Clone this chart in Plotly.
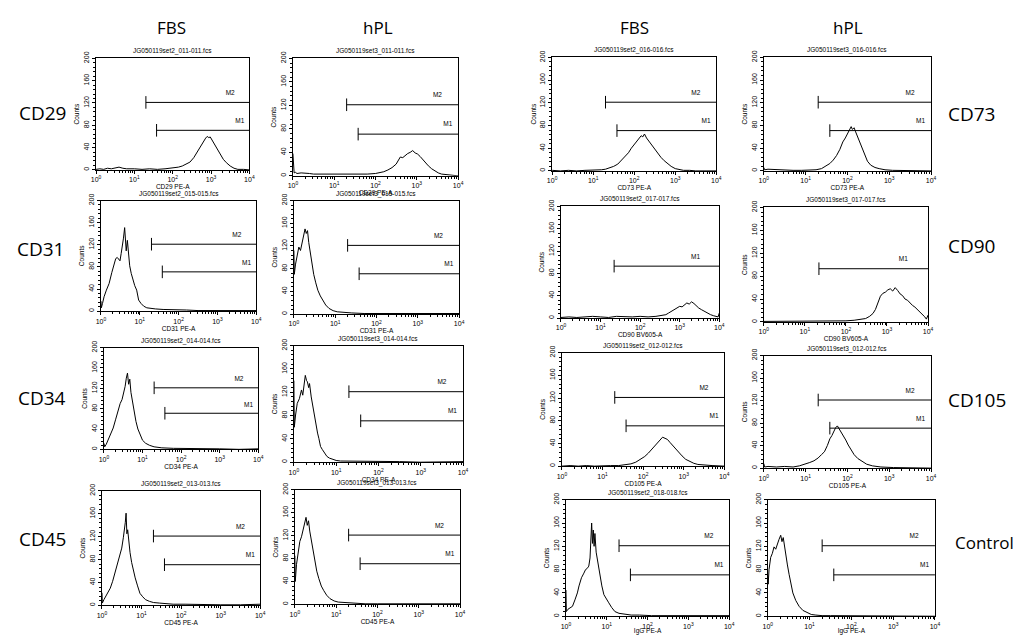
import numpy as np
import plotly.graph_objects as go

# ---------------- text ----------------
col_headers = ["FBS", "hPL", "FBS", "hPL"]
left_markers = ["CD29", "CD31", "CD34", "CD45"]
right_markers = ["CD73", "CD90", "CD105", "Control"]

# ---------------- gates ----------------
gate_names = ["M2", "M1"]
gate_start = [20, 38]
gate_level = [121, 71]
cd90_gate_names = ["M1"]
cd90_gate_start = [22]
cd90_gate_level = [93]

y_ticks = [0, 40, 80, 120, 160, 200]
x_tick_vals = [1, 10, 100, 1000, 10000]
x_tick_text = ["10<sup>0</sup>", "10<sup>1</sup>", "10<sup>2</sup>", "10<sup>3</sup>", "10<sup>4</sup>"]

# ---------------- histograms (log10 of fluorescence, counts) ----------------
cd29_fbs_exp = [0, 0.1, 0.2, 0.3, 0.4, 0.5, 0.6, 0.7, 0.8, 1.0, 1.2, 1.4, 1.6, 1.8, 1.95, 2.05, 2.15, 2.25, 2.35, 2.45, 2.55, 2.62, 2.7, 2.76, 2.82, 2.86, 2.9, 2.94, 2.98, 3.03, 3.08, 3.14, 3.2, 3.26, 3.32, 3.4, 3.5, 3.6, 3.7, 3.85, 4.0]
cd29_fbs_cnt = [1, 2, 1, 3, 2, 4, 5, 3, 2, 2, 1, 2, 1, 2, 3, 4, 5, 7, 10, 14, 22, 30, 40, 48, 55, 57, 60, 58, 59, 53, 47, 40, 32, 25, 19, 13, 7, 3, 1, 1, 0]

cd29_hpl_exp = [0, 0.01, 0.03, 0.06, 0.1, 0.2, 0.3, 0.4, 0.5, 0.6, 0.8, 1.0, 1.2, 1.4, 1.6, 1.8, 2.0, 2.1, 2.2, 2.3, 2.4, 2.5, 2.55, 2.6, 2.66, 2.72, 2.78, 2.84, 2.9, 2.96, 3.02, 3.08, 3.14, 3.2, 3.28, 3.36, 3.44, 3.52, 3.6, 3.7, 3.85, 4.0]
cd29_hpl_cnt = [38, 12, 5, 6, 4, 5, 5, 4, 3, 3, 2, 3, 2, 2, 2, 3, 4, 5, 7, 10, 14, 20, 26, 32, 31, 35, 38, 40, 43, 39, 37, 33, 28, 23, 17, 12, 8, 5, 3, 2, 1, 0]

cd73_fbs_exp = [0, 0.2, 0.4, 0.6, 0.8, 1.0, 1.1, 1.2, 1.3, 1.4, 1.5, 1.6, 1.7, 1.78, 1.86, 1.93, 2.0, 2.06, 2.12, 2.17, 2.21, 2.25, 2.3, 2.36, 2.42, 2.49, 2.56, 2.65, 2.73, 2.81, 2.9, 3.0, 3.1, 3.2, 3.35, 3.5, 3.75, 4.0]
cd73_fbs_cnt = [1, 0, 1, 0, 1, 1, 2, 2, 3, 5, 8, 12, 19, 25, 32, 40, 47, 52, 57, 62, 60, 65, 58, 52, 46, 39, 32, 24, 18, 13, 8, 4, 2, 1, 1, 0, 0, 0]

cd73_hpl_exp = [0, 0.02, 0.1, 0.3, 0.5, 0.7, 0.9, 1.1, 1.25, 1.38, 1.48, 1.58, 1.66, 1.74, 1.82, 1.89, 1.95, 2.01, 2.05, 2.09, 2.12, 2.16, 2.19, 2.24, 2.29, 2.35, 2.41, 2.48, 2.56, 2.66, 2.76, 2.9, 3.08, 3.3, 3.6, 4.0]
cd73_hpl_cnt = [6, 2, 3, 2, 2, 1, 1, 2, 2, 4, 8, 13, 19, 27, 38, 51, 58, 66, 72, 78, 73, 76, 70, 61, 51, 38, 27, 17, 10, 6, 4, 2, 1, 1, 0, 0]

cd31_fbs_exp = [0, 0.01, 0.04, 0.08, 0.14, 0.21, 0.28, 0.34, 0.38, 0.42, 0.46, 0.49, 0.52, 0.55, 0.58, 0.61, 0.63, 0.65, 0.68, 0.71, 0.74, 0.78, 0.82, 0.87, 0.92, 0.97, 1.03, 1.1, 1.18, 1.27, 1.4, 1.6, 1.8, 2.0, 2.2, 2.5, 2.8, 3.2, 3.6, 4.0]
cd31_fbs_cnt = [18, 6, 14, 26, 38, 50, 70, 88, 95, 97, 93, 91, 104, 115, 132, 151, 118, 109, 128, 100, 82, 68, 56, 46, 38, 20, 14, 9, 6, 5, 4, 3, 3, 2, 2, 1, 1, 1, 0, 1]

cd31_hpl_exp = [0, 0.01, 0.04, 0.08, 0.12, 0.16, 0.2, 0.24, 0.27, 0.3, 0.33, 0.36, 0.4, 0.44, 0.48, 0.53, 0.58, 0.64, 0.7, 0.77, 0.85, 0.95, 1.05, 1.2, 1.4, 1.7, 2.0, 2.5, 3.0, 3.5, 4.0]
cd31_hpl_cnt = [112, 70, 88, 105, 118, 112, 128, 138, 150, 142, 147, 126, 108, 86, 70, 55, 42, 32, 24, 16, 10, 6, 4, 3, 2, 1, 1, 1, 0, 0, 1]

cd90_fbs_exp = [0, 0.2, 0.4, 0.6, 0.8, 1.0, 1.2, 1.4, 1.6, 1.8, 2.0, 2.2, 2.4, 2.55, 2.65, 2.72, 2.79, 2.86, 2.93, 3.0, 3.06, 3.12, 3.18, 3.24, 3.3, 3.36, 3.42, 3.48, 3.55, 3.62, 3.7, 3.78, 3.86, 3.93, 3.97, 4.0]
cd90_fbs_cnt = [1, 2, 1, 2, 3, 2, 1, 3, 2, 2, 3, 2, 3, 4, 6, 9, 12, 15, 17, 21, 20, 24, 27, 25, 29, 26, 21, 18, 15, 12, 9, 6, 4, 3, 2, 9]

cd90_hpl_exp = [0, 0.2, 0.4, 0.6, 0.8, 1.0, 1.2, 1.4, 1.6, 1.8, 2.0, 2.2, 2.35, 2.48, 2.58, 2.66, 2.72, 2.78, 2.84, 2.9, 2.96, 3.02, 3.08, 3.14, 3.2, 3.26, 3.32, 3.38, 3.44, 3.5, 3.56, 3.62, 3.68, 3.74, 3.8, 3.86, 3.92, 3.96, 4.0]
cd90_hpl_cnt = [1, 1, 2, 1, 1, 2, 1, 1, 2, 1, 2, 3, 4, 6, 10, 15, 22, 34, 45, 50, 52, 56, 58, 54, 60, 55, 49, 46, 40, 38, 33, 29, 26, 22, 18, 14, 9, 5, 12]

cd34_fbs_exp = [0, 0.02, 0.06, 0.12, 0.18, 0.24, 0.3, 0.36, 0.42, 0.47, 0.51, 0.55, 0.58, 0.61, 0.64, 0.67, 0.7, 0.74, 0.78, 0.83, 0.88, 0.94, 1.0, 1.08, 1.18, 1.3, 1.5, 1.8, 2.2, 2.6, 3.0, 3.5, 4.0]
cd34_fbs_cnt = [12, 5, 10, 20, 30, 42, 58, 75, 90, 98, 110, 124, 140, 150, 128, 138, 112, 92, 72, 55, 40, 28, 18, 12, 8, 5, 3, 2, 2, 1, 1, 0, 1]

cd34_hpl_exp = [0, 0.01, 0.04, 0.08, 0.13, 0.18, 0.21, 0.24, 0.27, 0.3, 0.32, 0.35, 0.37, 0.41, 0.44, 0.47, 0.52, 0.56, 0.59, 0.63, 0.67, 0.7, 0.74, 0.78, 0.84, 0.9, 1.0, 1.1, 1.3, 1.6, 2.0, 2.5, 3.0, 3.5, 4.0]
cd34_hpl_cnt = [140, 60, 81, 101, 109, 124, 115, 130, 149, 140, 138, 128, 135, 112, 98, 87, 64, 50, 41, 27, 22, 19, 16, 10, 7, 5, 3, 2, 2, 1, 1, 1, 0, 0, 1]

cd105_fbs_exp = [0, 0.2, 0.4, 0.6, 0.8, 1.0, 1.2, 1.4, 1.55, 1.7, 1.82, 1.94, 2.04, 2.13, 2.22, 2.3, 2.37, 2.43, 2.48, 2.54, 2.6, 2.66, 2.72, 2.8, 2.88, 2.96, 3.05, 3.15, 3.25, 3.35, 3.5, 3.7, 4.0]
cd105_fbs_cnt = [0, 1, 0, 1, 0, 1, 1, 1, 2, 4, 7, 12, 17, 23, 30, 37, 43, 48, 51, 49, 47, 42, 37, 30, 24, 18, 12, 8, 5, 3, 2, 1, 0]

cd105_hpl_exp = [0, 0.02, 0.1, 0.3, 0.5, 0.7, 0.85, 1.0, 1.1, 1.2, 1.3, 1.38, 1.45, 1.52, 1.58, 1.63, 1.68, 1.72, 1.76, 1.8, 1.85, 1.9, 1.96, 2.02, 2.08, 2.16, 2.25, 2.35, 2.46, 2.6, 2.8, 3.1, 3.5, 4.0]
cd105_hpl_cnt = [8, 2, 3, 2, 3, 2, 4, 7, 10, 13, 18, 24, 29, 40, 52, 58, 66, 72, 75, 70, 66, 58, 50, 41, 33, 24, 17, 12, 7, 4, 2, 1, 1, 0]

cd45_fbs_exp = [0, 0.01, 0.05, 0.1, 0.16, 0.21, 0.27, 0.32, 0.37, 0.42, 0.46, 0.5, 0.54, 0.57, 0.59, 0.61, 0.63, 0.65, 0.68, 0.71, 0.75, 0.79, 0.84, 0.9, 0.96, 1.03, 1.1, 1.2, 1.3, 1.45, 1.6, 1.8, 2.1, 2.5, 3.0, 3.5, 4.0]
cd45_fbs_cnt = [22, 4, 10, 16, 24, 30, 42, 55, 68, 79, 88, 100, 118, 130, 145, 161, 125, 132, 110, 92, 75, 62, 48, 34, 21, 15, 10, 7, 5, 4, 3, 2, 2, 1, 1, 1, 2]

cd45_hpl_exp = [0, 0.01, 0.04, 0.08, 0.12, 0.16, 0.2, 0.24, 0.27, 0.3, 0.33, 0.36, 0.4, 0.44, 0.48, 0.53, 0.58, 0.64, 0.7, 0.77, 0.85, 0.95, 1.05, 1.2, 1.4, 1.7, 2.0, 2.5, 3.0, 3.5, 4.0]
cd45_hpl_cnt = [85, 40, 70, 95, 110, 118, 132, 140, 152, 138, 146, 128, 110, 92, 74, 58, 45, 32, 24, 16, 10, 6, 4, 3, 2, 1, 1, 1, 0, 0, 1]

ctrl_fbs_exp = [0, 0.01, 0.05, 0.1, 0.16, 0.22, 0.28, 0.32, 0.38, 0.44, 0.48, 0.52, 0.56, 0.59, 0.61, 0.63, 0.65, 0.67, 0.69, 0.71, 0.74, 0.77, 0.8, 0.84, 0.88, 0.93, 0.98, 1.05, 1.12, 1.2, 1.3, 1.45, 1.6, 1.8, 2.1, 2.5, 3.0, 3.5, 4.0]
ctrl_fbs_cnt = [45, 8, 12, 15, 17, 28, 40, 52, 66, 74, 80, 82, 86, 100, 150, 160, 125, 148, 120, 142, 110, 96, 85, 68, 52, 37, 30, 23, 15, 8, 5, 3, 2, 2, 1, 1, 1, 0, 1]

ctrl_hpl_exp = [0, 0.01, 0.03, 0.07, 0.11, 0.15, 0.19, 0.23, 0.27, 0.31, 0.34, 0.37, 0.4, 0.43, 0.47, 0.51, 0.55, 0.6, 0.67, 0.75, 0.84, 0.94, 1.04, 1.15, 1.3, 1.5, 1.8, 2.2, 2.6, 3.0, 3.5, 4.0]
ctrl_hpl_cnt = [70, 55, 80, 101, 108, 119, 115, 125, 132, 139, 128, 135, 119, 110, 88, 72, 56, 40, 27, 17, 10, 6, 3, 2, 1, 1, 1, 0, 1, 0, 0, 0]

# ---------------- panel descriptions (row-major) ----------------
panel_files = [
    "JG050119set2_011-011.fcs", "JG050119set3_011-011.fcs", "JG050119set2_016-016.fcs", "JG050119set3_016-016.fcs",
    "JG050119set2_015-015.fcs", "JG050119set3_015-015.fcs", "JG050119set2_017-017.fcs", "JG050119set3_017-017.fcs",
    "JG050119set2_014-014.fcs", "JG050119set3_014-014.fcs", "JG050119set2_012-012.fcs", "JG050119set3_012-012.fcs",
    "JG050119set2_013-013.fcs", "JG050119set3_013-013.fcs", "JG050119set2_018-018.fcs", "",
]
panel_xlabels = [
    "CD29 PE-A", "CD29 PE-A", "CD73 PE-A", "CD73 PE-A",
    "CD31 PE-A", "CD31 PE-A", "CD90 BV605-A", "CD90 BV605-A",
    "CD34 PE-A", "CD34 PE-A", "CD105 PE-A", "CD105 PE-A",
    "CD45 PE-A", "CD45 PE-A", "IgG PE-A", "IgG PE-A",
]
panel_data = [
    (cd29_fbs_exp, cd29_fbs_cnt), (cd29_hpl_exp, cd29_hpl_cnt), (cd73_fbs_exp, cd73_fbs_cnt), (cd73_hpl_exp, cd73_hpl_cnt),
    (cd31_fbs_exp, cd31_fbs_cnt), (cd31_hpl_exp, cd31_hpl_cnt), (cd90_fbs_exp, cd90_fbs_cnt), (cd90_hpl_exp, cd90_hpl_cnt),
    (cd34_fbs_exp, cd34_fbs_cnt), (cd34_hpl_exp, cd34_hpl_cnt), (cd105_fbs_exp, cd105_fbs_cnt), (cd105_hpl_exp, cd105_hpl_cnt),
    (cd45_fbs_exp, cd45_fbs_cnt), (cd45_hpl_exp, cd45_hpl_cnt), (ctrl_fbs_exp, ctrl_fbs_cnt), (ctrl_hpl_exp, ctrl_hpl_cnt),
]
std_gates = (gate_names, gate_start, gate_level)
cd90_gates = (cd90_gate_names, cd90_gate_start, cd90_gate_level)
panel_gates = [std_gates] * 6 + [cd90_gates, cd90_gates] + [std_gates] * 8

# ---------------- layout (pixel boxes: left, right, top, bottom) ----------------
W, H = 1030, 635
boxes = [
    (92, 247, 52, 165), (291, 458, 52, 171), (553, 719, 51, 166), (767, 936, 51, 166),
    (97, 254, 196, 308), (292, 459, 196, 311), (562, 722, 202, 315), (767, 933, 203, 319),
    (100, 256, 345, 448), (292, 463, 343, 461), (563, 727, 350, 465), (767, 936, 353, 467),
    (98, 258, 490, 606), (293, 460, 489, 605), (567, 732, 499, 617), (771, 940, 499, 617),
]

def px_x(p):
    return p / W

def px_y(p):
    return 1 - p / H

TICK_FONT = dict(family="Liberation Sans, Arial, sans-serif", size=7, color="black")
LABEL_FONT = dict(family="Open Sans, Noto Sans, sans-serif", color="black")
minor_x = [m * 10 ** d for d in range(4) for m in range(2, 10)]
gate_label_exp = {"M2": 3.5, "M1": 3.75}

fig = go.Figure()
layout_axes = {}
annotations = []

for i in range(16):
    n = "" if i == 0 else str(i + 1)
    xa, ya = "x" + n, "y" + n
    l, r, t, b = boxes[i]
    exps, cnts = panel_data[i]
    xs = 10 ** np.array(exps, dtype=float)
    fig.add_trace(go.Scatter(x=xs, y=cnts, mode="lines", line=dict(color="black", width=1),
                             xaxis=xa, yaxis=ya, showlegend=False, hoverinfo="skip"))
    names, starts, levels = panel_gates[i]
    for nm, st, lv in zip(names, starts, levels):
        fig.add_trace(go.Scatter(x=[st, 10000], y=[lv, lv], mode="lines",
                                 line=dict(color="black", width=1), xaxis=xa, yaxis=ya,
                                 showlegend=False, hoverinfo="skip"))
        fig.add_trace(go.Scatter(x=[st], y=[lv], mode="markers",
                                 marker=dict(symbol="line-ns", size=9, line=dict(color="black", width=1)),
                                 xaxis=xa, yaxis=ya, showlegend=False, hoverinfo="skip"))
        lx = 10 ** (3.4 if len(names) == 1 else gate_label_exp[nm])
        fig.add_trace(go.Scatter(x=[lx], y=[lv + 16], mode="text", text=[nm],
                                 textfont=dict(family="Liberation Sans, Arial", size=6.5, color="black"),
                                 xaxis=xa, yaxis=ya, showlegend=False, hoverinfo="skip"))

    layout_axes["xaxis" + n] = dict(
        domain=[px_x(l), px_x(r)], anchor=ya, type="log", range=[0, 4],
        tickmode="array", tickvals=x_tick_vals, ticktext=x_tick_text,
        ticks="outside", ticklen=3, tickwidth=1, tickcolor="black",
        minor=dict(tickmode="array", tickvals=minor_x, ticks="outside", ticklen=2, tickcolor="black", showgrid=False),
        showline=True, mirror=True, linecolor="black", linewidth=1, showgrid=False, zeroline=False,
        tickfont=TICK_FONT, title=dict(text=panel_xlabels[i], font=dict(TICK_FONT, size=6.5), standoff=1),
    )
    layout_axes["yaxis" + n] = dict(
        domain=[px_y(b), px_y(t)], anchor=xa, range=[0, 200],
        tickmode="array", tickvals=y_ticks, tickangle=-90,
        ticks="outside", ticklen=3, tickwidth=1, tickcolor="black",
        minor=dict(dtick=8, ticks="outside", ticklen=2, tickcolor="black", showgrid=False),
        showline=True, mirror=True, linecolor="black", linewidth=1, showgrid=False, zeroline=False,
        tickfont=TICK_FONT, title=dict(text="Counts", font=dict(TICK_FONT, size=6.5), standoff=2),
    )
    if panel_files[i]:
        annotations.append(dict(text=panel_files[i], x=px_x((l + r) / 2), y=px_y(t - 1),
                                xref="paper", yref="paper", xanchor="center", yanchor="bottom",
                                showarrow=False, font=dict(TICK_FONT, size=6.5)))

header_x = [168, 377, 636, 852]
for txt, hx in zip(col_headers, header_x):
    annotations.append(dict(text=txt, x=px_x(hx), y=px_y(21), xref="paper", yref="paper",
                            xanchor="center", yanchor="middle", showarrow=False,
                            font=dict(LABEL_FONT, size=17)))

left_pos = [(38, 107), (36, 245), (37, 396), (38, 539)]
for txt, (lx, ly) in zip(left_markers, left_pos):
    annotations.append(dict(text=txt, x=px_x(lx), y=px_y(ly), xref="paper", yref="paper",
                            xanchor="center", yanchor="middle", showarrow=False,
                            font=dict(LABEL_FONT, size=19)))
right_pos = [(977, 108), (977, 242), (982, 398), (990, 542)]
right_sizes = [19, 19, 19, 17]
for txt, (rx, ry), sz in zip(right_markers, right_pos, right_sizes):
    annotations.append(dict(text=txt, x=px_x(rx), y=px_y(ry), xref="paper", yref="paper",
                            xanchor="center", yanchor="middle", showarrow=False,
                            font=dict(LABEL_FONT, size=sz)))

fig.update_layout(
    width=W, height=H, margin=dict(l=0, r=0, t=0, b=0),
    paper_bgcolor="white", plot_bgcolor="white", showlegend=False,
    annotations=annotations, **layout_axes,
)

fig.write_html("out.html", config={"displayModeBar": False},
               post_script="document.body.style.margin='0';document.body.style.overflow='hidden';")
